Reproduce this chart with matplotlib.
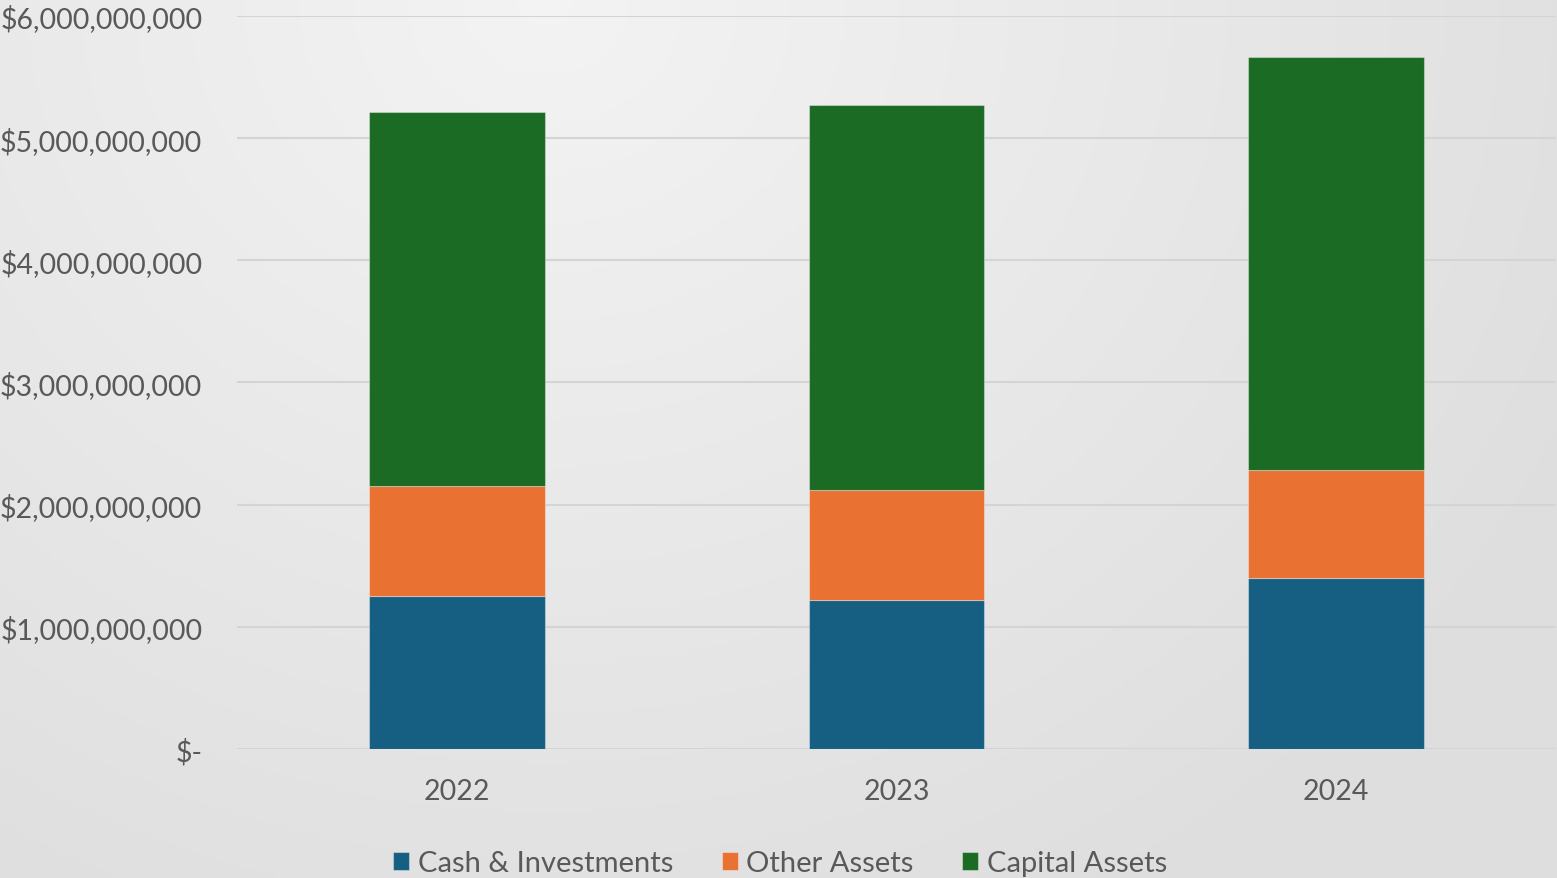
import numpy as np
import matplotlib
matplotlib.use("Agg")
import matplotlib.pyplot as plt
from matplotlib.ticker import FuncFormatter

years = ["2022", "2023", "2024"]
cash = [1.25e9, 1.22e9, 1.40e9]
other = [0.90e9, 0.90e9, 0.885e9]
capital = [3.06e9, 3.15e9, 3.38e9]
series_names = ["Cash & Investments", "Other Assets", "Capital Assets"]
colors = ["#165F82", "#E97132", "#1B6B24"]

plt.rcParams['font.family'] = ['Lato', 'DejaVu Sans']

fig = plt.figure(figsize=(15.57, 8.79), dpi=100)

# background gradient
bg = fig.add_axes([0, 0, 1, 1], zorder=-10)
yy, xx = np.mgrid[0:1:200j, 0:1:400j]
d = np.sqrt(((xx - 0.35) * 1.6) ** 2 + ((yy - 1.0) * 1.0) ** 2)
val = 0.955 - 0.07 * np.clip(d, 0, 1.2)
bg.imshow(np.dstack([val, val, val]), extent=[0, 1, 0, 1], origin='lower', aspect='auto')
bg.axis('off')

ax = fig.add_axes([0.1522, 0.1468, 0.8472, 0.8339])
ax.patch.set_alpha(0)
x = np.arange(len(years))
bottom = np.zeros(len(years))
for vals, name, c in zip([cash, other, capital], series_names, colors):
    ax.bar(x, vals, width=0.4, bottom=bottom, color=c, label=name,
           edgecolor=(1, 1, 1, 0.35), linewidth=0.8, zorder=3)
    bottom = bottom + np.array(vals)

ax.set_xlim(-0.5, 2.5)
ax.set_ylim(0, 6e9)
ax.set_yticks(np.arange(0, 6.01e9, 1e9))
ax.yaxis.set_major_formatter(FuncFormatter(lambda v, p: "$-" if v == 0 else f"${v:,.0f}"))
ax.set_xticks(x)
ax.set_xticklabels(years)
ax.grid(axis='y', color='#d4d4d4', linewidth=1.5, zorder=0)
for s in ax.spines.values():
    s.set_visible(False)
ax.tick_params(axis='both', length=0, labelsize=20.5, colors='#595959')
ax.tick_params(axis='y', pad=25)
ax.tick_params(axis='x', pad=21)

leg = fig.legend(loc='lower center', bbox_to_anchor=(0.501, -0.028), ncol=3, frameon=False,
                 fontsize=21, labelcolor='#595959', handlelength=0.55, handleheight=0.55,
                 handletextpad=0.3, columnspacing=1.65)

fig.savefig("out.png", dpi=100)
